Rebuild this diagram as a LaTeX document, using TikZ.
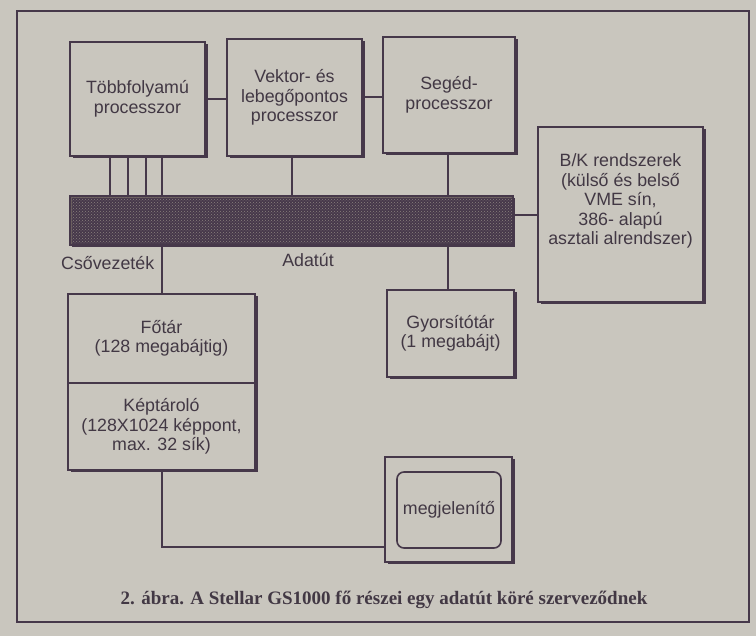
\documentclass[tikz,border=0pt]{standalone}
\usepackage{fontspec}
\setmainfont{Liberation Sans}
\newfontfamily\capfont{Liberation Serif}
\usetikzlibrary{patterns,shadows}
\definecolor{bgc}{RGB}{201,198,190}
\definecolor{ink}{RGB}{70,56,74}
\definecolor{txt}{RGB}{66,56,68}
\definecolor{busfill}{RGB}{104,92,92}
\definecolor{busdot}{RGB}{138,128,126}
\begin{document}
\begin{tikzpicture}[x=1pt,y=-1pt,
  box/.style={draw=ink, line width=1.6pt, fill=bgc, text=txt, align=center, inner sep=0pt,
    font=\fontsize{17.8}{19.5}\selectfont,
    drop shadow={shadow xshift=2.5pt, shadow yshift=-2.5pt, fill=ink, opacity=1}},
  plainbox/.style={draw=ink, line width=1.6pt, fill=bgc, text=txt, align=center, inner sep=0pt,
    font=\fontsize{17.8}{19.5}\selectfont},
  conn/.style={draw=ink, line width=1.3pt},
  lbl/.style={text=txt, font=\fontsize{17.8}{19.5}\selectfont, inner sep=0pt, align=center}]
\fill[bgc] (0,0) rectangle (756,636);
\useasboundingbox (0,0) rectangle (756,636);
\draw[ink, line width=1.5pt] (17,11) rectangle (749,622);

% top row
\node[box, minimum width=135pt, minimum height=114pt] (tobb) at (137.5,99) {Többfolyamú\\processzor};
\node[box, minimum width=135pt, minimum height=117pt] (vektor) at (294.5,97.5) {Vektor- és\\lebegőpontos\\processzor};
\node[box, minimum width=132pt, minimum height=116pt] (seged) at (449,95) {Segéd-\\processzor};

% bus
\node[draw=ink, line width=1.6pt, inner sep=0pt, minimum width=443pt, minimum height=49pt,
  preaction={fill=busfill}, pattern=crosshatch dots, pattern color=busdot,
  drop shadow={shadow xshift=2pt, shadow yshift=-2pt, fill=ink, opacity=1}] (bus) at (291.5,220.5) {};

% I/O box
\node[box, minimum width=165pt, minimum height=175pt] (bk) at (620.5,214.5) {};
\node[lbl] (bktext) at (620.5,201) {B/K rendszerek\\(külső és belső\\VME sín,\\386- alapú\\asztali alrendszer)};

% memory
\node[box, minimum width=187pt, minimum height=89pt] (fotar) at (161.5,338.5) {Főtár\\(128 megabájtig)};
\node[box, minimum width=187pt, minimum height=87pt] (kep) at (161.5,426.5) {Képtároló\\(128X1024 képpont,\\max. 32 sík)};

% cache
\node[box, minimum width=127pt, minimum height=87pt] (gyors) at (450.5,333.5) {Gyorsítótár\\(1 megabájt)};

% monitor
\node[box, minimum width=127pt, minimum height=105pt] (mon) at (448.5,509.5) {};
\node[plainbox, rounded corners=7pt, minimum width=104pt, minimum height=76pt] (scr) at (449,510) {megjelenítő};

% labels
\node[lbl, anchor=west] (cso) at (61,263) {Csővezeték};
\node[lbl] (adat) at (308,260) {Adatút};

% connectors
\draw[conn] (tobb.east) -- (tobb.east -| vektor.west);
\draw[conn] (vektor.east |- 0,97) -- (seged.west |- 0,97);
\foreach \x in {110,128,146,162} {
  \draw[conn] (\x,0 |- tobb.south) -- (\x,0 |- bus.north);
}
\draw[conn] (292,0 |- vektor.south) -- (292,0 |- bus.north);
\draw[conn] (448,0 |- seged.south) -- (448,0 |- bus.north);
\draw[conn] (bus.east |- 0,215) -- (bk.west |- 0,215);
\draw[conn] (162,0 |- bus.south) -- (162,0 |- fotar.north);
\draw[conn] (448,0 |- bus.south) -- (448,0 |- gyors.north);
\draw[conn] (162,0 |- kep.south) |- (mon.west |- 0,547);

% caption
\node[text=txt, inner sep=0pt, anchor=base, font=\capfont\bfseries\fontsize{19}{22}\selectfont] (cap) at (384,605) {2. ábra. A Stellar GS1000 fő részei egy adatút köré szerveződnek};
\end{tikzpicture}
\end{document}
